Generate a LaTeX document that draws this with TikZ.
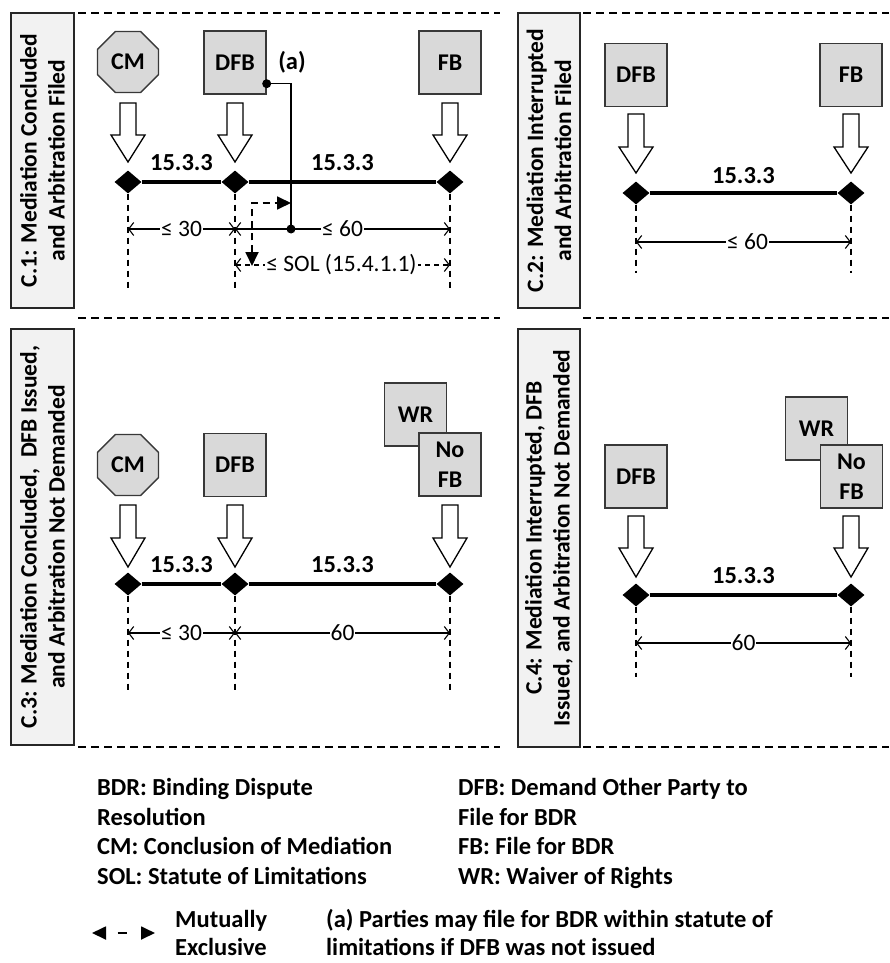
\documentclass[tikz,border=0pt]{standalone}
\usepackage{fontspec}
\setmainfont{Carlito}
\usetikzlibrary{arrows.meta,shapes.geometric}

\definecolor{boxfill}{HTML}{D9D9D9}
\definecolor{boxline}{HTML}{383838}
\definecolor{tagfill}{HTML}{F2F2F2}

\newcommand\evfont{\fontsize{24}{30}\selectfont\bfseries}
\newcommand\tagfont{\fontsize{23.5}{28}\selectfont\bfseries}
\newcommand\segfont{\fontsize{24.5}{28}\selectfont\bfseries}
\newcommand\dimfont{\fontsize{23.5}{27}\selectfont}
\newcommand\keyfont{\fontsize{24.5}{28}\selectfont\bfseries}

% hollow block arrow: x, shaft top, head base, tip
\newcommand\hollowarrow[4]{%
  \draw[hollow] (#1-8,#2) -- (#1+8,#2) -- (#1+8,#3) -- (#1+17,#3) -- (#1,#4)
    -- (#1-17,#3) -- (#1-8,#3) -- cycle;}

\tikzset{
  ev/.style={draw=boxline, line width=1.4pt, fill=boxfill, minimum width=62pt,
    minimum height=63pt, inner sep=0pt, font=\evfont, align=center},
  cmbox/.style={regular polygon, regular polygon sides=8, draw=boxline,
    line width=1.4pt, fill=boxfill, minimum size=66pt, inner sep=0pt, font=\evfont},
  tag/.style={draw=black!85, line width=1.4pt, fill=tagfill, rotate=90,
    align=center, font=\tagfont, inner sep=0pt},
  milestone/.style={diamond, fill=black, minimum width=27pt, minimum height=23pt,
    inner sep=0pt},
  timeline/.style={line width=4.5pt},
  seglabel/.style={font=\segfont, inner sep=0pt},
  guide/.style={line width=1.5pt, dash pattern=on 6pt off 5pt},
  dim/.style={line width=1.1pt,
    {Straight Barb[length=5pt,width=13pt]}-{Straight Barb[length=5pt,width=13pt]}},
  dimlabel/.style={fill=white, inner sep=1pt, font=\dimfont},
  sep/.style={line width=2pt, dash pattern=on 8pt off 5pt},
  excl/.style={line width=1.8pt, dash pattern=on 7pt off 5pt,
    {Triangle[length=14pt,width=13pt]}-{Triangle[length=14pt,width=13pt]}},
  link/.style={line width=1.4pt},
  hollow/.style={draw=black, line width=1.3pt, fill=white, line join=miter},
  keytext/.style={font=\keyfont, anchor=base west, inner sep=0pt},
}

\begin{document}
\begin{tikzpicture}[x=1pt,y=-1pt]
\useasboundingbox (0,0) rectangle (889,963);

% ---------- panel frames ----------
\draw[sep] (78,13) -- (500,13);   \draw[sep] (583,13) -- (889,13);
\draw[sep] (78,318) -- (500,318); \draw[sep] (583,318) -- (889,318);
\draw[sep] (78,747) -- (500,747); \draw[sep] (583,747) -- (889,747);

\node[tag, minimum width=295pt, minimum height=63pt] (tag1) at (42.5,160.5)
  {C.1: Mediation Concluded\\and Arbitration Filed};
\node[tag, minimum width=295pt, minimum height=62pt] (tag2) at (549,160.5)
  {C.2: Mediation Interrupted\\and Arbitration Filed};
\node[tag, minimum width=416pt, minimum height=63pt] (tag3) at (42.5,537)
  {C.3: Mediation Concluded,\ \ DFB Issued,\\and Arbitration Not Demanded};
\node[tag, minimum width=418pt, minimum height=62pt] (tag4) at (549,538)
  {C.4: Mediation Interrupted, DFB\\Issued, and Arbitration Not Demanded};

% ---------- C.1 ----------
\node[cmbox] (cm1) at (128,62) {CM};
\node[ev] (dfb1) at (235,62.5) {DFB};
\node[ev] (fb1) at (450,62.5) {FB};
\hollowarrow{128}{103}{135}{162}
\hollowarrow{235}{103}{135}{162}
\hollowarrow{450}{103}{135}{162}
\node[milestone] (m11) at (128,182) {};
\node[milestone] (m12) at (235,182) {};
\node[milestone] (m13) at (450,182) {};
\draw[timeline] (m11.east) -- (m12.west) node[midway, yshift=19pt, seglabel] {15.3.3};
\draw[timeline] (m12.east) -- (m13.west) node[midway, yshift=19pt, seglabel] {15.3.3};
\coordinate (g11) at (128,290); \coordinate (g12) at (235,290); \coordinate (g13) at (450,290);
\draw[guide] (m11.south) -- (g11);
\draw[guide] (m12.south) -- (g12);
\draw[guide] (m13.south) -- (g13);
\coordinate (d11) at (128,229); \coordinate (d12) at (235,229); \coordinate (d13) at (450,229);
\draw[dim] (d11) -- (d12) node[midway, dimlabel] {≤ 30};
\draw[dim] (d12) -- (d13) node[midway, dimlabel] {≤ 60};
\coordinate (s12) at (235,265); \coordinate (s13) at (450,265);
\draw[dim, dash pattern=on 5pt off 4pt] (s12) -- (s13)
  node[midway, dimlabel, xshift=-1pt] {≤ SOL (15.4.1.1)};
% note (a): filing within the statute of limitations
\coordinate (a0) at ([yshift=11pt]dfb1.south east);
\coordinate (a1) at (291,229);
\draw[link] (a0) -| (a1);
\fill (a0) circle (4.5pt);
\fill (a1) circle (4.5pt);
\node[seglabel] (note1) at (292,62) {(a)};
\coordinate (x1) at (252,266); \coordinate (x2) at (291,203);
\draw[excl] (x1) |- (x2);

% ---------- C.2 ----------
\node[ev] (dfb2) at (636,75) {DFB};
\node[ev] (fb2) at (851,75) {FB};
\hollowarrow{636}{114}{147}{173}
\hollowarrow{851}{114}{147}{173}
\node[milestone] (m21) at (636,193) {};
\node[milestone] (m22) at (851,193) {};
\draw[timeline] (m21.east) -- (m22.west) node[midway, yshift=17pt, seglabel] {15.3.3};
\coordinate (g21) at (636,273); \coordinate (g22) at (851,273);
\draw[guide] (m21.south) -- (g21);
\draw[guide] (m22.south) -- (g22);
\coordinate (d21) at (636,242); \coordinate (d22) at (851,242);
\draw[dim] (d21) -- (d22) node[midway, dimlabel, xshift=4pt] {≤ 60};

% ---------- C.3 ----------
\node[cmbox] (cm3) at (128,465) {CM};
\node[ev] (dfb3) at (235,465) {DFB};
\node[ev] (wr3) at (415.5,414.5) {WR};
\node[ev] (nofb3) at (450,464.5) {No\\FB};
\hollowarrow{128}{505}{538}{567}
\hollowarrow{235}{505}{538}{567}
\hollowarrow{450}{505}{538}{567}
\node[milestone] (m31) at (128,584) {};
\node[milestone] (m32) at (235,584) {};
\node[milestone] (m33) at (450,584) {};
\draw[timeline] (m31.east) -- (m32.west) node[midway, yshift=19pt, seglabel] {15.3.3};
\draw[timeline] (m32.east) -- (m33.west) node[midway, yshift=19pt, seglabel] {15.3.3};
\coordinate (g31) at (128,692); \coordinate (g32) at (235,692); \coordinate (g33) at (450,692);
\draw[guide] (m31.south) -- (g31);
\draw[guide] (m32.south) -- (g32);
\draw[guide] (m33.south) -- (g33);
\coordinate (d31) at (128,633); \coordinate (d32) at (235,633); \coordinate (d33) at (450,633);
\draw[dim] (d31) -- (d32) node[midway, dimlabel] {≤ 30};
\draw[dim] (d32) -- (d33) node[midway, dimlabel] {60};

% ---------- C.4 ----------
\node[ev] (dfb4) at (636,476.5) {DFB};
\node[ev] (wr4) at (816.5,428.5) {WR};
\node[ev] (nofb4) at (851.5,476.5) {No\\FB};
\hollowarrow{636}{516}{548}{577}
\hollowarrow{851}{516}{548}{577}
\node[milestone] (m41) at (636,595) {};
\node[milestone] (m42) at (851,595) {};
\draw[timeline] (m41.east) -- (m42.west) node[midway, yshift=19pt, seglabel] {15.3.3};
\coordinate (g41) at (636,677); \coordinate (g42) at (851,677);
\draw[guide] (m41.south) -- (g41);
\draw[guide] (m42.south) -- (g42);
\coordinate (d41) at (636,643); \coordinate (d42) at (851,643);
\draw[dim] (d41) -- (d42) node[midway, dimlabel] {60};

% ---------- key ----------
\node[keytext] (k1) at (97,795) {BDR: Binding Dispute};
\node[keytext] (k2) at (97,825) {Resolution};
\node[keytext] (k3) at (97,854) {CM: Conclusion of Mediation};
\node[keytext] (k4) at (97,884) {SOL: Statute of Limitations};
\node[keytext] (k5) at (458,795) {DFB: Demand Other Party to};
\node[keytext] (k6) at (458,825) {File for BDR};
\node[keytext] (k7) at (458,854) {FB: File for BDR};
\node[keytext] (k8) at (458,884) {WR: Waiver of Rights};
\coordinate (e1) at (92,933); \coordinate (e2) at (155,933);
\draw[excl, dash pattern=on 0pt off 12pt on 9pt off 40pt] (e1) -- (e2);
\node[keytext] (k9) at (175,927) {Mutually};
\node[keytext] (k10) at (175,955) {Exclusive};
\node[keytext] (k11) at (326,927) {(a) Parties may file for BDR within statute of};
\node[keytext] (k12) at (326,955) {limitations if DFB was not issued};
\end{tikzpicture}
\end{document}
